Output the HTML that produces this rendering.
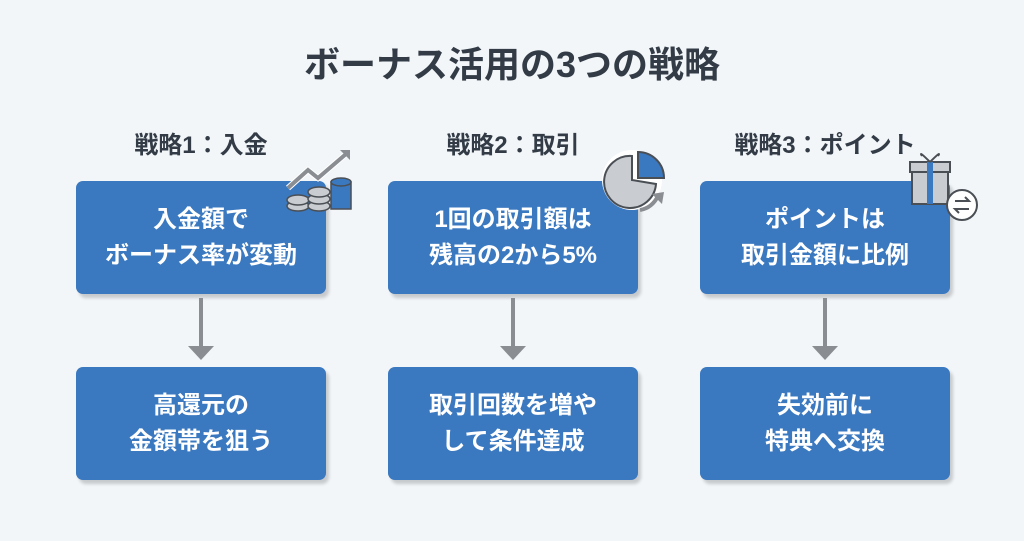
<!DOCTYPE html>
<html><head><meta charset="utf-8"><style>
body{margin:0;width:1024px;height:541px;background:#f2f6f9;font-family:"Liberation Sans","Noto Sans CJK JP",sans-serif;position:relative;overflow:hidden}
.t{position:absolute;left:0;width:1024px;top:36px;text-align:center;font-size:36px;font-weight:bold;color:#333c46}
.h{position:absolute;width:250px;text-align:center;top:125px;font-size:24px;font-weight:bold;color:#333c46}
.b{position:absolute;width:250px;height:113px;background:#3a78c0;border-radius:7px;box-shadow:3px 4px 3px rgba(0,0,0,0.18);color:#fff;font-weight:bold;font-size:24px;line-height:36px;display:flex;align-items:center;justify-content:center;text-align:center}
.a{position:absolute;width:4px;height:50px;background:#8a8d91}
.ah{position:absolute;width:0;height:0;border-left:13px solid transparent;border-right:13px solid transparent;border-top:14px solid #8a8d91}
</style></head><body>
<div class="t">ボーナス活用の3つの戦略</div>
<div class="h" style="left:76px">戦略1：入金</div>
<div class="h" style="left:388px">戦略2：取引</div>
<div class="h" style="left:700px">戦略3：ポイント</div>
<div class="b" style="left:76px;top:181px">入金額で<br>ボーナス率が変動</div>
<div class="b" style="left:388px;top:181px">1回の取引額は<br>残高の2から5%</div>
<div class="b" style="left:700px;top:181px">ポイントは<br>取引金額に比例</div>
<div class="b" style="left:76px;top:367px">高還元の<br>金額帯を狙う</div>
<div class="b" style="left:388px;top:367px">取引回数を増や<br>して条件達成</div>
<div class="b" style="left:700px;top:367px">失効前に<br>特典へ交換</div>
<div class="a" style="left:199px;top:298px"></div><div class="ah" style="left:188px;top:346px"></div>
<div class="a" style="left:511px;top:298px"></div><div class="ah" style="left:500px;top:346px"></div>
<div class="a" style="left:823px;top:298px"></div><div class="ah" style="left:812px;top:346px"></div>
<svg style="position:absolute;left:0;top:0" width="1024" height="541">
<g stroke="#fff" stroke-width="6" fill="none"><polyline points="288,188 308,170 318,178 346,154"/></g>
<polyline points="288,188 308,170 318,178 346,154" stroke="#8a8d91" stroke-width="4" fill="none"/>
<polygon points="340,150 350,150 350,160" fill="#8a8d91"/>
<g stroke="#4a4f55" stroke-width="1.5">
<ellipse cx="298" cy="206" rx="11" ry="5" fill="#c9ccd0"/>
<ellipse cx="298" cy="200" rx="11" ry="5" fill="#c9ccd0"/>
<ellipse cx="319" cy="206" rx="11" ry="5" fill="#c9ccd0"/>
<ellipse cx="319" cy="199" rx="11" ry="5" fill="#c9ccd0"/>
<ellipse cx="319" cy="192" rx="11" ry="5" fill="#c9ccd0"/>
<rect x="331" y="182" width="20" height="27" fill="#3a78c0"/>
<ellipse cx="341" cy="182" rx="10" ry="4" fill="#3a78c0"/>
</g>
<circle cx="632" cy="180" r="30" fill="#fff"/>
<path d="M632,156 A26,26 0 1 0 656,184 L632,180 Z" fill="#c9ccd0" stroke="#4a4f55" stroke-width="2"/>
<path d="M638,152 A26,26 0 0 1 664,178 L638,178 Z" fill="#3a78c0" stroke="#4a4f55" stroke-width="2"/>
<path d="M640,210 Q652,208 658,196" stroke="#8a8d91" stroke-width="4" fill="none"/>
<polygon points="652,194 664,192 662,204" fill="#8a8d91"/>
<rect x="912" y="168" width="36" height="36" fill="#c9ccd0" stroke="#4a4f55" stroke-width="2"/>
<rect x="910" y="162" width="40" height="10" fill="#c9ccd0" stroke="#4a4f55" stroke-width="2"/>
<rect x="927" y="162" width="6" height="42" fill="#3a78c0"/>
<path d="M930,162 q-12,-12 -8,-6 M930,162 q12,-12 8,-6" stroke="#4a4f55" stroke-width="2" fill="none"/>
<circle cx="962" cy="205" r="15" fill="#fff" stroke="#4a4f55" stroke-width="2"/>
<path d="M955,201 h14 l-4,-4 M969,209 h-14 l4,4" stroke="#4a4f55" stroke-width="2" fill="none"/>
</svg>
</body></html>
